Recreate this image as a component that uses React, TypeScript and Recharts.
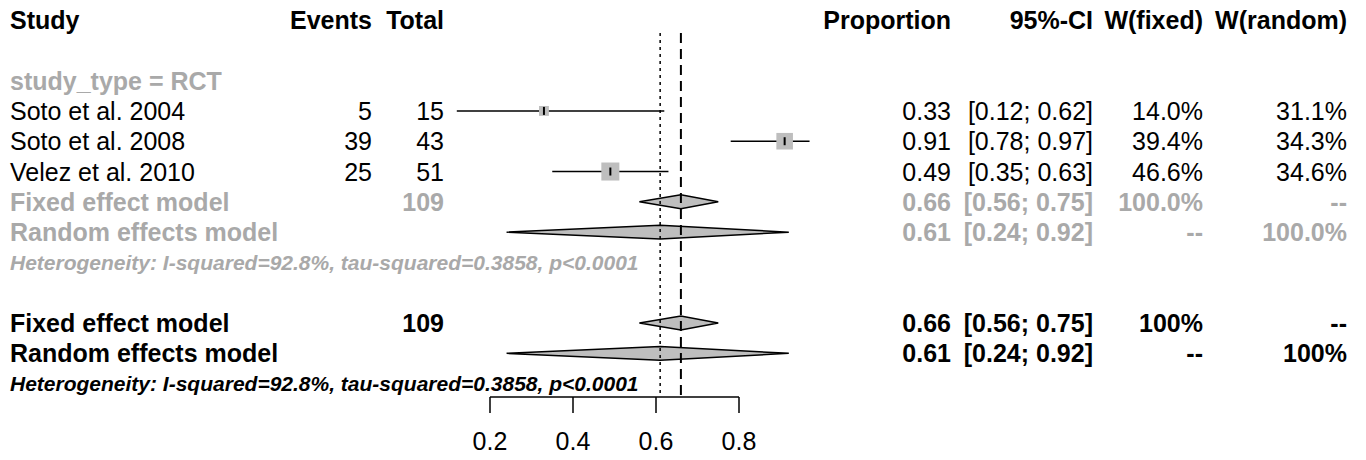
import React from 'react';
import {
  ComposedChart,
  XAxis,
  YAxis,
  Scatter,
  ErrorBar,
  ReferenceLine,
  ReferenceArea,
} from 'recharts';

const FONT = '"Liberation Sans", Arial, Helvetica, sans-serif';
const GRAY_TEXT = '#a9a9a9';
const GRAY_FILL = '#bebebe';

// study level data
const studies = ['Soto et al. 2004', 'Soto et al. 2008', 'Velez et al. 2010'];
const events = [5, 39, 25];
const totals = [15, 43, 51];
const proportions = [0.33, 0.91, 0.49];
const ciLower = [0.12, 0.78, 0.35];
const ciUpper = [0.62, 0.97, 0.63];
const weightFixed = [14.0, 39.4, 46.6];
const weightRandom = [31.1, 34.3, 34.6];

// pooled estimates (fixed, random)
const poolLabels = ['Fixed effect model', 'Random effects model'];
const poolEst = [0.66, 0.61];
const poolLower = [0.56, 0.24];
const poolUpper = [0.75, 0.92];
const totalN = 109;

const subgroupLabel = 'study_type = RCT';
const hetText = 'Heterogeneity: I-squared=92.8%, tau-squared=0.3858, p<0.0001';
const headers = ['Study', 'Events', 'Total', 'Proportion', '95%-CI', 'W(fixed)', 'W(random)'];
const xTicks = [0.2, 0.4, 0.6, 0.8];

// row numbers in the plot
const ROW_HEADER = 0;
const ROW_SUBGROUP = 2;
const ROW_STUDY0 = 3;
const ROW_SUB_POOL = 6;
const ROW_SUB_HET = 8;
const ROW_ALL_POOL = 10;
const ROW_ALL_HET = 12;
const Y_DOMAIN: [number, number] = [-0.66, 12.44];

const COL = { study: 10, events: 372, total: 444, prop: 951, ci: 1093, wf: 1203, wr: 1347 };
type Col = keyof typeof COL;

interface Cell {
  col: Col;
  text: string;
  bold?: boolean;
  italic?: boolean;
  small?: boolean;
  color?: string;
}

const fmtCI = (lo: number, hi: number) => `[${lo.toFixed(2)}; ${hi.toFixed(2)}]`;

const tableRows: Record<number, Cell[]> = {};
const headerCols: Col[] = ['study', 'events', 'total', 'prop', 'ci', 'wf', 'wr'];
tableRows[ROW_HEADER] = headers.map((h, i) => ({ col: headerCols[i], text: h, bold: true }));
tableRows[ROW_SUBGROUP] = [{ col: 'study', text: subgroupLabel, bold: true, color: GRAY_TEXT }];
studies.forEach((s, i) => {
  tableRows[ROW_STUDY0 + i] = [
    { col: 'study', text: s },
    { col: 'events', text: String(events[i]) },
    { col: 'total', text: String(totals[i]) },
    { col: 'prop', text: proportions[i].toFixed(2) },
    { col: 'ci', text: fmtCI(ciLower[i], ciUpper[i]) },
    { col: 'wf', text: `${weightFixed[i].toFixed(1)}%` },
    { col: 'wr', text: `${weightRandom[i].toFixed(1)}%` },
  ];
});

const pooledRows = (start: number, color: string, full: string) => {
  poolLabels.forEach((label, i) => {
    tableRows[start + i] = [
      { col: 'study', text: label, bold: true, color },
      { col: 'total', text: i === 0 ? String(totalN) : '', bold: true, color },
      { col: 'prop', text: poolEst[i].toFixed(2), bold: true, color },
      { col: 'ci', text: fmtCI(poolLower[i], poolUpper[i]), bold: true, color },
      { col: 'wf', text: i === 0 ? full : '--', bold: true, color },
      { col: 'wr', text: i === 1 ? full : '--', bold: true, color },
    ];
  });
};
pooledRows(ROW_SUB_POOL, GRAY_TEXT, '100.0%');
pooledRows(ROW_ALL_POOL, '#000', '100%');
tableRows[ROW_SUB_HET] = [{ col: 'study', text: hetText, bold: true, italic: true, small: true, color: GRAY_TEXT }];
tableRows[ROW_ALL_HET] = [{ col: 'study', text: hetText, bold: true, italic: true, small: true, color: '#000' }];

const rowTicks = Object.keys(tableRows).map(Number);

const studyPoints = studies.map((s, i) => ({
  x: proportions[i],
  y: ROW_STUDY0 + i,
  w: weightFixed[i],
  err: [proportions[i] - ciLower[i], ciUpper[i] - proportions[i]],
}));

// pooled diamonds: subgroup and overall rows
const diamonds = [ROW_SUB_POOL, ROW_ALL_POOL].flatMap((start) =>
  poolEst.map((est, i) => ({ row: start + i, est, lo: poolLower[i], hi: poolUpper[i] })),
);

const TableTick = (props: any) => {
  const { y, payload } = props;
  const cells = tableRows[payload.value] || [];
  return (
    <g>
      {cells.map((c, k) => (
        <text
          key={k}
          x={COL[c.col]}
          y={y + (c.small ? 7.5 : 9)}
          textAnchor={c.col === 'study' ? 'start' : 'end'}
          fontFamily={FONT}
          fontSize={c.small ? 21 : 25}
          fontWeight={c.bold ? 'bold' : 'normal'}
          fontStyle={c.italic ? 'italic' : 'normal'}
          fill={c.color || '#000'}
        >
          {c.text}
        </text>
      ))}
    </g>
  );
};

const NoShape = () => <g />;

const StudyBox = (props: any) => {
  const { cx, cy, payload } = props;
  const side = 2.64 * Math.sqrt(payload.w);
  return (
    <g>
      <rect x={cx - side / 2} y={cy - side / 2} width={side} height={side} fill={GRAY_FILL} />
      <line x1={cx} x2={cx} y1={cy - 4} y2={cy + 4} stroke="#000" strokeWidth={2} />
    </g>
  );
};

const diamondShape = (est: number, lo: number, hi: number) => (props: any) => {
  const { x, y, width, height } = props;
  const mid = x + (width * (est - lo)) / (hi - lo);
  const cy = y + height / 2;
  return (
    <polygon
      points={`${x},${cy} ${mid},${y} ${x + width},${cy} ${mid},${y + height}`}
      fill={GRAY_FILL}
      stroke="#000"
      strokeWidth={1.5}
    />
  );
};

export default function App() {
  return (
    <div style={{ position: 'absolute', left: 0, top: 0, width: 1366, height: 460, background: '#fff' }}>
      <ComposedChart
        width={1366}
        height={460}
        margin={{ top: 0, right: 544, bottom: 0, left: 0 }}
        style={{ fontFamily: FONT }}
      >
        <XAxis
          type="number"
          dataKey="x"
          domain={[0, 1]}
          ticks={xTicks}
          axisLine={false}
          tickSize={16}
          tickMargin={19}
          height={63}
          tickLine={{ stroke: '#000', strokeWidth: 1.5 }}
          tick={{ fill: '#000', fontSize: 25, fontFamily: FONT }}
        />
        <YAxis
          type="number"
          dataKey="y"
          domain={Y_DOMAIN}
          reversed
          width={407}
          ticks={rowTicks}
          interval={0}
          axisLine={false}
          tickLine={false}
          tick={<TableTick />}
        />

        {/* x axis line only over the tick range */}
        <ReferenceLine
          segment={[{ x: xTicks[0], y: Y_DOMAIN[1] }, { x: xTicks[xTicks.length - 1], y: Y_DOMAIN[1] }]}
          stroke="#000"
          strokeWidth={1.5}
          ifOverflow="visible"
        />

        {/* pooled estimate lines */}
        <ReferenceLine
          segment={[{ x: poolEst[1], y: 0.43 }, { x: poolEst[1], y: Y_DOMAIN[1] }]}
          stroke="#000"
          strokeWidth={1.5}
          strokeDasharray="3 4"
          ifOverflow="visible"
        />
        <ReferenceLine
          segment={[{ x: poolEst[0], y: 0.43 }, { x: poolEst[0], y: Y_DOMAIN[1] }]}
          stroke="#000"
          strokeWidth={2}
          strokeDasharray="10 6"
          ifOverflow="visible"
        />

        {/* confidence intervals first, boxes drawn over them */}
        <Scatter data={studyPoints} shape={<NoShape />} isAnimationActive={false}>
          <ErrorBar dataKey="err" direction="x" width={0} stroke="#000" strokeWidth={1.5} />
        </Scatter>
        <Scatter data={studyPoints} shape={<StudyBox />} isAnimationActive={false} />

        {diamonds.map((d) => (
          <ReferenceArea
            key={d.row}
            x1={d.lo}
            x2={d.hi}
            y1={d.row - 0.23}
            y2={d.row + 0.23}
            shape={diamondShape(d.est, d.lo, d.hi)}
          />
        ))}
      </ComposedChart>
    </div>
  );
}
